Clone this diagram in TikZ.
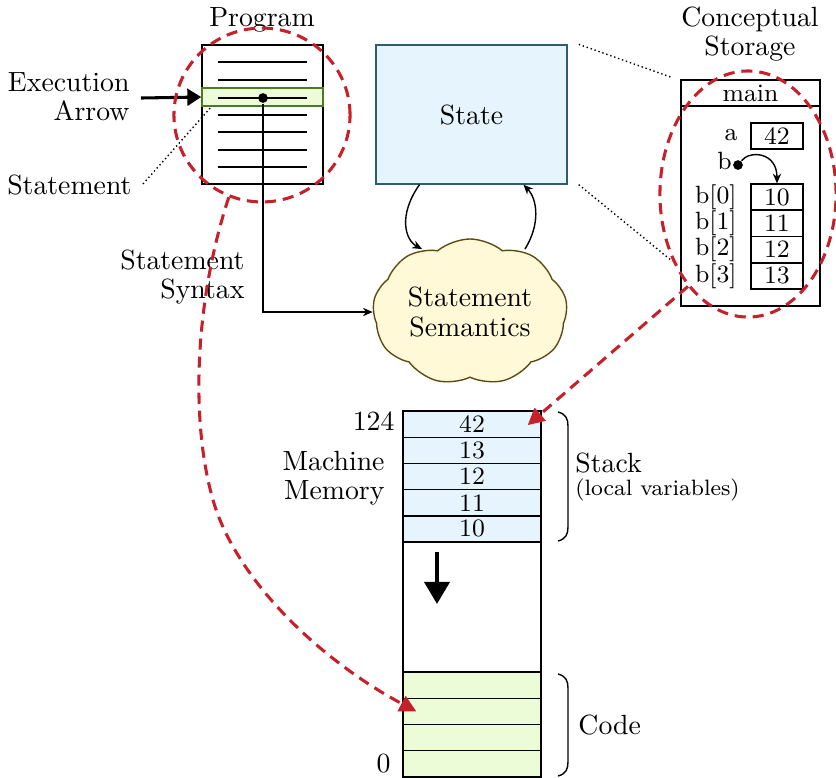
\documentclass[tikz,border=0pt]{standalone}
\usepackage{xcolor}
\usepackage{tikz}
\usetikzlibrary{arrows.meta,calc,shapes.geometric,shapes.symbols}
\definecolor{stackblue}{HTML}{E6F4FD}
\definecolor{stateedge}{HTML}{2E5E6E}
\definecolor{codegreen}{HTML}{EBFCD7}
\definecolor{stmtedge}{HTML}{4B7A1F}
\definecolor{cloudfill}{HTML}{FFF9D7}
\definecolor{cloudedge}{HTML}{5C4A10}
\definecolor{ringred}{HTML}{C6202A}
\tikzset{
  lbl/.style={font=\fontsize{10}{10.5}\selectfont, inner sep=1pt},
  lblr/.style={lbl, align=right, anchor=east},
  storelbl/.style={font=\small, anchor=east, inner sep=1pt},
  box/.style={draw, inner sep=0pt},
  progbox/.style={box, minimum width=43.6pt, minimum height=50pt},
  stmtbar/.style={box, draw=stmtedge, fill=codegreen, minimum width=43.6pt, minimum height=6.5pt},
  statebox/.style={box, draw=stateedge, fill=stackblue, minimum width=68.8pt, minimum height=50pt, lbl},
  semcloud/.style={cloud, draw=cloudedge, fill=cloudfill, cloud puffs=9, cloud puff arc=80, aspect=1.4,
    inner sep=0pt, minimum width=70pt, minimum height=51pt, align=center, lbl},
  storebox/.style={box, minimum width=50pt, minimum height=81.4pt},
  cell/.style={box, minimum width=18.7pt, minimum height=9.4pt, font=\small},
  memcell/.style={box, minimum width=49.7pt, minimum height=9.43pt, font=\small},
  stackcell/.style={memcell, fill=stackblue},
  codecell/.style={memcell, fill=codegreen},
  ring/.style={ellipse, draw=ringred, line width=1.1pt, dash pattern=on 4pt off 2.5pt, inner sep=0pt},
  redlink/.style={draw=ringred, line width=1.1pt, dash pattern=on 4pt off 2.5pt,
    -{Triangle[width=6pt,length=6pt]}},
  link/.style={-{Stealth[length=3.5pt,width=3pt]}},
  guide/.style={densely dotted},
  bullet/.style={circle, fill, inner sep=0pt, minimum size=3.5pt},
  execarrow/.style={line width=1.1pt, -{Triangle[width=6pt,length=5pt]}},
  bigarrow/.style={line width=1.6pt, -{Triangle[width=9pt,length=8pt]}}
}
\begin{document}
\begin{tikzpicture}[x=0.36pt,y=-0.36pt,line width=0.5pt]
  \useasboundingbox (0,0) rectangle (836,777);

  % program and the current statement
  \node[lbl] (progtitle) at (262,20) {Program};
  \node[progbox] (prog) at (262.5,114.5) {};
  \node[stmtbar] (stmt) at (262.5,97) {};
  \foreach \y in {62,80,98,115,132,150,167}
    \draw (218,\y) -- (307,\y);
  \node[bullet] (sdot) at (263,98) {};
  \node[lblr] (exec) at (133,97) {Execution\\Arrow};
  \coordinate (execstart) at (141,98);
  \draw[execarrow] (execstart) -- (stmt.west);
  \node[lblr] (stmtlbl) at (135,185) {Statement};
  \coordinate (stmtfoot) at (143,184);
  \coordinate (stmthead) at (212,106);
  \draw[guide] (stmtfoot) -- (stmthead);
  \node[lblr] (syntax) at (248,277) {Statement\\Syntax};

  % state and semantics
  \node[statebox] (state) at (471.5,114.5) {State};
  \node[semcloud] (sem) at (470,312) {Statement\\Semantics};
  \draw[link] (sdot) |- (sem);
  \coordinate (semin) at (422,249);
  \coordinate (semout) at (525,249);
  \draw[link] ($(state.south)+(-52,0)$) .. controls (398,215) and (405,240) .. (semin);
  \draw[link] (semout) .. controls (540,225) and (538,200) .. ($(state.south)+(52,0)$);

  % conceptual storage
  \node[lbl,align=center] (storetitle) at (750,34) {Conceptual\\Storage};
  \node[storebox] (store) at (750.5,193) {};
  \node[box, minimum width=50pt, minimum height=9.4pt, font=\small] (mainhdr) at (750.5,93) {main};
  \draw[guide] ($(state.north east)+(11,0)$) -- ($(store.north west)+(-9,-2)$);
  \draw[guide] ($(state.south east)+(11,0)$) -- ($(store.north west)+(-8,182)$);
  \node[cell] (va) at (777,136) {42};
  \node[storelbl] (la) at (741,135) {a};
  \foreach \v [count=\i from 0] in {10,11,12,13} {
    \node[cell] (vb\i) at (777,197.1+26.25*\i) {\v};
    \node[storelbl] (lb\i) at (740,197.1+26.25*\i) {b[\i]};
  }
  \node[storelbl] (lbb) at (735,161) {b};
  \node[bullet] (bdot) at (738,165) {};
  \draw[link] (bdot) .. controls (750,150) and (777,152) .. (vb0.north);

  % machine memory
  \foreach \v [count=\i from 0] in {42,13,12,11,10}
    \node[stackcell] (s\i) at (472,424.1+26.2*\i) {\v};
  \node[box, minimum width=49.7pt, minimum height=46.8pt] (free) at (472,607) {};
  \foreach \i in {0,...,3}
    \node[codecell] (c\i) at (472,685.1+26.25*\i) {};
  \coordinate (growtop) at (437,552);
  \draw[bigarrow] (growtop) -- ++(0,52);
  \node[lblr] (addrtop) at (398,421) {124};
  \node[lblr] (addrbot) at (394,764) {0};
  \node[lblr] (memlbl) at (388,478) {Machine\\Memory};
  \draw (558,412) .. controls (566,414) and (568,419) .. (568,426) -- (568,527)
    .. controls (568,534) and (566,539) .. (558,541);
  \draw (558,674) .. controls (566,676) and (568,681) .. (568,688) -- (568,762)
    .. controls (568,769) and (566,774) .. (558,776);
  \node[lbl, anchor=west] (stacklbl) at (572,463) {Stack};
  \node[font=\footnotesize, anchor=west, inner sep=1pt] (stacknote) at (572,490) {(local variables)};
  \node[lbl, anchor=west] (codelbl) at (575,725) {Code};

  % red rings and their links
  \node[ring, minimum width=63.4pt, minimum height=62.6pt] (progring) at (262,115) {};
  \node[ring, minimum width=63.4pt, minimum height=88.6pt] (storering) at (748,194) {};
  \coordinate (codetip) at ($(c1.west)+(14,0)$);
  \draw[redlink] (progring.248) .. controls (195,300) and (190,420) .. (213,500)
    .. controls (236,580) and (320,660) .. (codetip);
  \coordinate (stacktip) at ($(s0.east)+(-14,1)$);
  \draw[redlink] (storering.237) -- (stacktip);
\end{tikzpicture}
\end{document}
